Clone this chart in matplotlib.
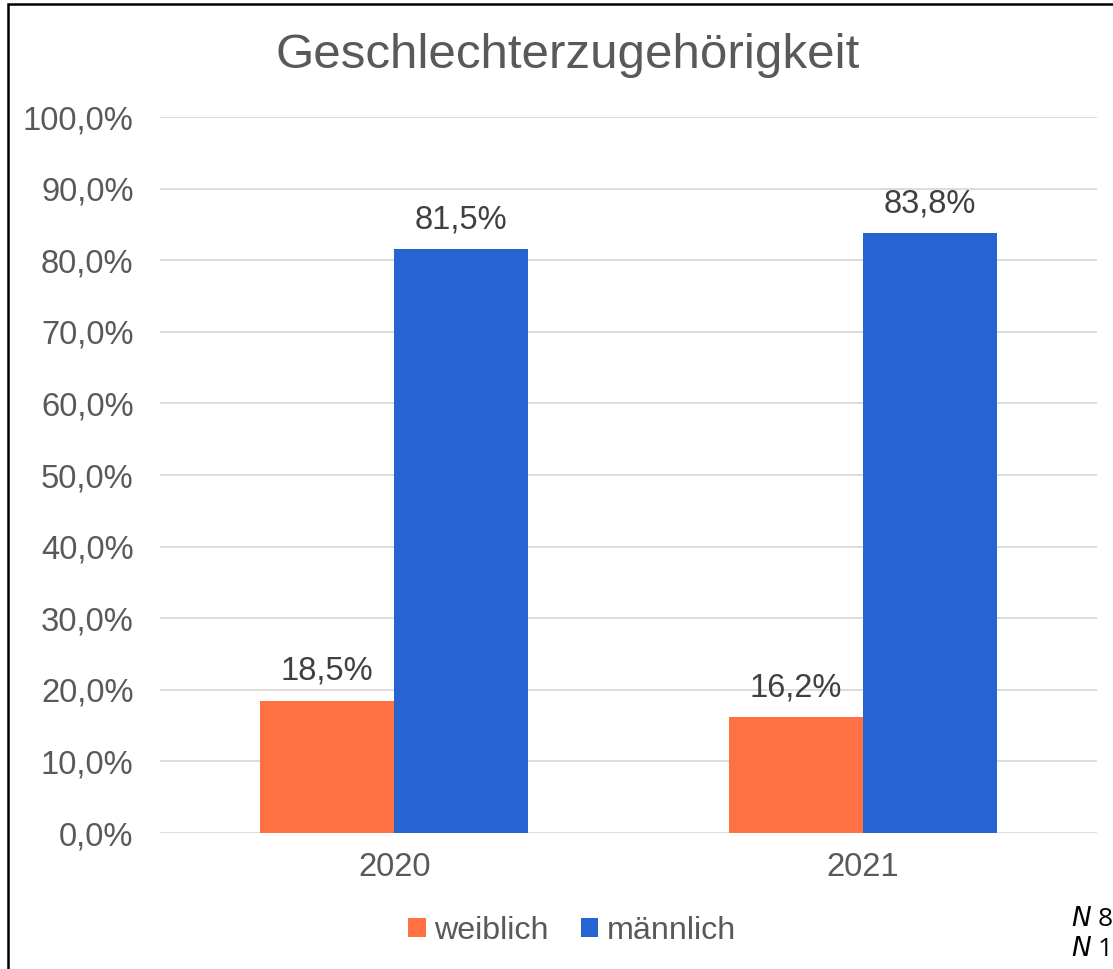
import matplotlib
matplotlib.use("Agg")
import matplotlib.pyplot as plt
from matplotlib.patches import Rectangle
import numpy as np

plt.rcParams['font.family'] = ['Liberation Sans', 'DejaVu Sans']

years = ["2020", "2021"]
weiblich = [18.5, 16.2]
maennlich = [81.5, 83.8]
series_names = ["weiblich", "männlich"]
colors = ["#FF7043", "#2664D2"]
yticks = np.arange(0, 101, 10)

W, H = 1113, 969
fig = plt.figure(figsize=(W/100, H/100), dpi=100)
ax = fig.add_axes([160/W, 1-833/H, (1097-160)/W, (833-117)/H])

x = np.arange(len(years))
bw = 0.286
b1 = ax.bar(x - bw/2, weiblich, bw, color=colors[0], label=series_names[0], zorder=3)
b2 = ax.bar(x + bw/2, maennlich, bw, color=colors[1], label=series_names[1], zorder=3)

txt = "#595959"
for bars, vals in ((b1, weiblich), (b2, maennlich)):
    for r, v in zip(bars, vals):
        ax.annotate(f"{v:.1f}%".replace(".", ","), (r.get_x() + r.get_width()/2, v),
                    xytext=(0, 10), textcoords="offset points", ha="center", va="bottom",
                    fontsize=23.5, color="#404040")

ax.set_xlim(-0.5, 1.5)
ax.set_ylim(0, 100)
ax.set_yticks(yticks)
ax.set_yticklabels([f"{v:.1f}%".replace(".", ",") for v in yticks], fontsize=23.6, color=txt)
ax.set_xticks(x)
ax.set_xticklabels(years, fontsize=23.6, color=txt)
ax.tick_params(axis='y', length=0, pad=19)
ax.tick_params(axis='x', length=0, pad=14)
ax.grid(axis='y', color="#D9D9D9", linewidth=1.3, zorder=0)
for s in ax.spines.values():
    s.set_visible(False)

fig.text(568/W, 1-55/H, "Geschlechterzugehörigkeit", ha="center", va="center",
         fontsize=35.5, color=txt)

leg = fig.legend(handles=[b1, b2], labels=series_names, loc="center", bbox_to_anchor=(572/W, 1-931/H),
                 ncol=2, frameon=False, fontsize=23.2, handlelength=0.55, handleheight=0.55,
                 handletextpad=0.25, columnspacing=1.0, labelcolor=txt)

fig.text(1071/W, 1-919/H, r"$\it{N}$ 8", ha="left", va="center", fontsize=19, color="black",
         family=["Open Sans", "DejaVu Sans"])
fig.text(1071/W, 1-949/H, r"$\it{N}$ 1", ha="left", va="center", fontsize=19, color="black",
         family=["Open Sans", "DejaVu Sans"])

fig.patches.append(Rectangle((8/W, -0.05), 1.2, 1 - 4/H + 0.05, transform=fig.transFigure,
                             fill=False, edgecolor="black", linewidth=1.8, clip_on=False))

fig.savefig("out.png", dpi=100)
